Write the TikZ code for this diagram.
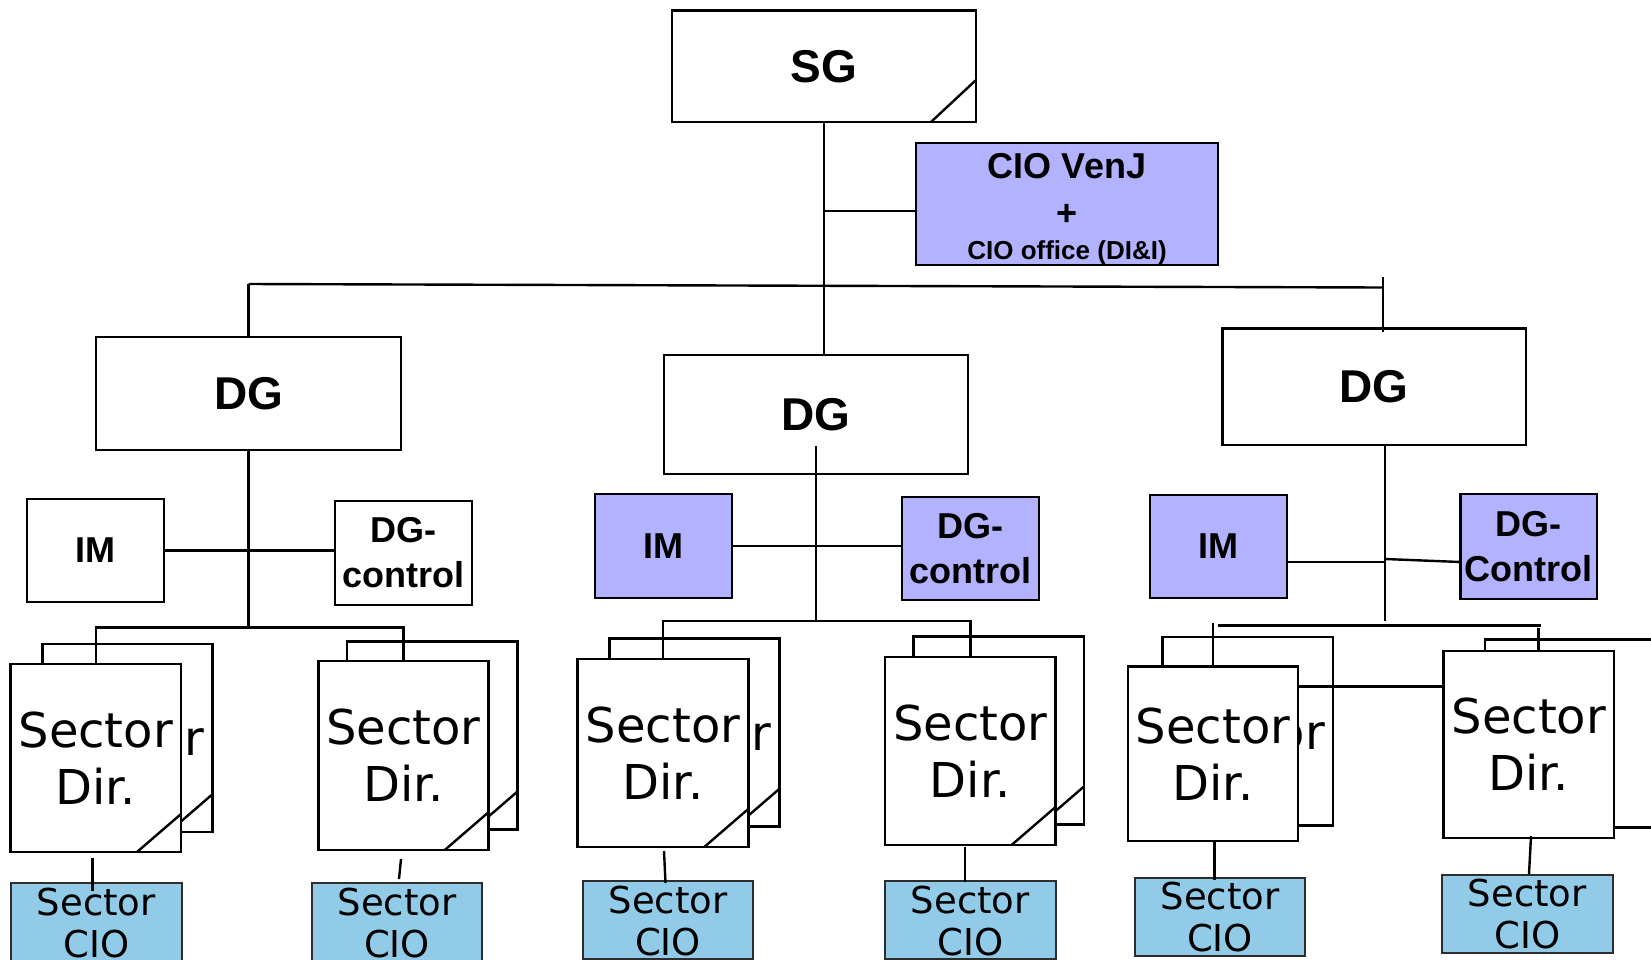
\documentclass[tikz,border=0pt]{standalone}
\usepackage{fontspec}
\setmainfont{Liberation Sans}
\newfontfamily\verd{DejaVu Sans}
\definecolor{purp}{RGB}{178,178,255}
\definecolor{cioblue}{RGB}{146,203,232}
\definecolor{cioedge}{RGB}{45,45,45}
\newcommand\foldc[1]{\draw[foldline] (#1.south east) ++(-44,0) -- ++(44,-38);}
\begin{document}
\begin{tikzpicture}[x=1pt,y=-1pt,
  box/.style={draw, line width=2.6pt, fill=white, inner sep=0pt, outer sep=0pt},
  bigtxt/.style={font=\bfseries\fontsize{46}{55}\selectfont},
  midtxt/.style={font=\bfseries\fontsize{36}{45}\selectfont, align=center},
  smalltxt/.style={font=\bfseries\fontsize{26}{30}\selectfont, inner sep=0pt},
  sdbox/.style={box, minimum width=170.5pt, minimum height=188pt, align=center, font=\verd\fontsize{48}{57}\selectfont},
  sdtxt/.style={inner sep=0pt, align=center, font=\verd\fontsize{48}{57}\selectfont},
  ciobox/.style={draw=cioedge, fill=cioblue, line width=2pt, inner sep=0pt, outer sep=0pt, minimum width=170.5pt, minimum height=78pt},
  ciotxt/.style={inner sep=0pt, anchor=north, align=center, font=\verd\fontsize{37}{42}\selectfont},
  conn/.style={line width=2.4pt},
  foldline/.style={line width=2.4pt}]
\useasboundingbox (0,0) rectangle (1651,959);
\clip (0,0) rectangle (1651,959);
\fill[white] (0,0) rectangle (1651,959);

% top level
\node[box, bigtxt, minimum width=304pt, minimum height=111.5pt] (sg) at (824,66.25) {SG};
\draw[foldline] (sg.south east) ++(-45,0) -- ++(45,-42);
\node[box, fill=purp, minimum width=302pt, minimum height=122pt] (cio) at (1067,204) {};
\node[midtxt, inner sep=0pt] (ciot1) at (1067,166) {CIO VenJ};
\node[midtxt, inner sep=0pt] (ciot2) at (1067,215) {+};
\node[smalltxt] (ciot3) at (1067,253) {CIO office (DI\&I)};

% DG level
\node[box, bigtxt, minimum width=305pt, minimum height=113pt] (dgL) at (248.5,393.5) {DG};
\node[box, bigtxt, minimum width=304pt, minimum height=119pt] (dgM) at (816,414.5) {DG};
\node[box, bigtxt, minimum width=303.5pt, minimum height=116.5pt] (dgR) at (1374.25,386.75) {DG};

% staff level
\node[box, midtxt, minimum width=137pt, minimum height=103pt] (imL) at (95.5,550.5) {IM};
\node[box, midtxt, minimum width=137pt, minimum height=104pt] (dgcL) at (403.5,553) {DG-\\control};
\node[box, midtxt, fill=purp, minimum width=137pt, minimum height=104pt] (imM) at (663.5,546) {IM};
\node[box, midtxt, fill=purp, minimum width=137pt, minimum height=103pt] (dgcM) at (970.5,548.5) {DG-\\control};
\node[box, midtxt, fill=purp, minimum width=137pt, minimum height=103pt] (imR) at (1218.5,546.5) {IM};
\node[box, midtxt, fill=purp, minimum width=136.5pt, minimum height=105pt] (dgcR) at (1528.75,546.5) {DG-\\Control};

% sector directorates: back sheets
\node[sdbox] (sd1b) at (127.5,738) {};
\foldc{sd1b}
\node[sdtxt] (sd1bt) at (127.5,766) {Sector\\Dir.};
\node[sdbox] (sd2b) at (432.25,735.5) {};
\foldc{sd2b}
\node[sdbox] (sd3b) at (694.5,732.5) {};
\foldc{sd3b}
\node[sdtxt] (sd3bt) at (694.5,761) {Sector\\Dir.};
\node[sdbox] (sd4b) at (998.75,730.5) {};
\foldc{sd4b}
\node[sdbox, minimum height=188.5pt] (sd5b) at (1247.75,731.25) {};
\node[sdtxt] (sd5bt) at (1247.75,760) {Sector\\Dir.};
\node[sdbox] (sd6b) at (1570.25,733.5) {};

% sector directorates: front sheets
\node[sdbox] (sd1) at (95.75,758) {Sector\\Dir.};
\foldc{sd1}
\node[sdbox, minimum height=189pt] (sd2) at (403.5,755.5) {Sector\\Dir.};
\foldc{sd2}
\node[sdbox] (sd3) at (663,753) {Sector\\Dir.};
\foldc{sd3}
\node[sdbox] (sd4) at (970.3,751) {Sector\\Dir.};
\foldc{sd4}
\node[sdbox, minimum width=170pt, minimum height=174.5pt] (sd5) at (1213,753.75) {Sector\\Dir.};
\node[sdbox, minimum height=187pt] (sd6) at (1528.75,744.5) {Sector\\Dir.};

% sector CIOs
\node[ciobox] (c1) at (96.3,922) {};
\node[ciobox] (c2) at (397,922) {};
\node[ciobox] (c3) at (668,920) {};
\node[ciobox] (c4) at (970.3,920) {};
\node[ciobox] (c5) at (1220,917) {};
\node[ciobox] (c6) at (1527.25,914) {};

% connectors: top
\coordinate (hL) at (248.5,284);
\coordinate (hR) at (1383,287.5);
\draw[conn] (hL) -- (hR);
\draw[conn] (hL) -- (hL |- dgL.north);
\coordinate (hRt) at (1383,277);
\coordinate (hRb) at (1383,332);
\draw[conn] (hRt) -- (hRb);
\draw[conn] (sg.south) -- (sg.south |- dgM.north);
\coordinate (cioj) at (824,211);
\draw[conn] (cioj) -- (cioj -| cio.west);

% connectors: left branch
\coordinate (barL) at (248.5,627.6);
\draw[conn] (dgL.south) -- (barL);
\draw[conn] (imL.east) -- (imL.east -| dgcL.west);
\draw[conn] (sd1.north) -- (sd1.north |- barL) -- (sd2.north |- barL) -- (sd2.north);

% connectors: middle branch
\coordinate (mvt) at (816,445.5);
\coordinate (barM) at (816,621);
\draw[conn] (mvt) -- (barM);
\draw[conn] (imM.east) -- (imM.east -| dgcM.west);
\draw[conn] (sd3.north) -- (sd3.north |- barM) -- (sd4.north |- barM) -- (sd4.north);

% connectors: right branch
\coordinate (rvt) at (1385,445);
\coordinate (barR) at (1385,621);
\draw[conn] (rvt) -- (barR);
\coordinate (rj) at (1385,562);
\coordinate (rj2) at (1385,559);
\draw[conn] (rj -| imR.east) -- (rj);
\draw[conn] (rj2) -- (dgcR.west |- rj);
\coordinate (b5) at (1218,625.5);
\coordinate (b6) at (1540.5,625.5);
\draw[conn] (b5) -- (b6);
\coordinate (t5) at (1213,623);
\draw[conn] (t5) -- (sd5.north);
\coordinate (t6) at (1538.5,628);
\draw[conn] (t6) -- (t6 |- sd6.north);
\coordinate (l56) at (1298,686.5);
\draw[conn] (l56) -- (l56 -| sd6.west);

% connectors: sector dir to sector CIO
\coordinate (k1a) at (92.5,858); \coordinate (k1b) at (92.5,891);
\coordinate (k2a) at (401,859); \coordinate (k2b) at (399,879);
\coordinate (k3a) at (664,851); \coordinate (k3b) at (665.5,883);
\coordinate (k4a) at (965,847); \coordinate (k4b) at (965,882);
\coordinate (k5a) at (1214.5,842); \coordinate (k5b) at (1214.5,880);
\coordinate (k6a) at (1531,836); \coordinate (k6b) at (1529,874);
\foreach \i in {1,...,6} {\draw[conn] (k\i a) -- (k\i b);}

% sector CIO texts
\node[ciotxt] (c1t) at (96.3,888) {Sector\\CIO};
\node[ciotxt] (c2t) at (397,888) {Sector\\CIO};
\node[ciotxt] (c3t) at (668,886) {Sector\\CIO};
\node[ciotxt] (c4t) at (970.3,886) {Sector\\CIO};
\node[ciotxt] (c5t) at (1220,882) {Sector\\CIO};
\node[ciotxt] (c6t) at (1527.25,879) {Sector\\CIO};
\end{tikzpicture}
\end{document}
